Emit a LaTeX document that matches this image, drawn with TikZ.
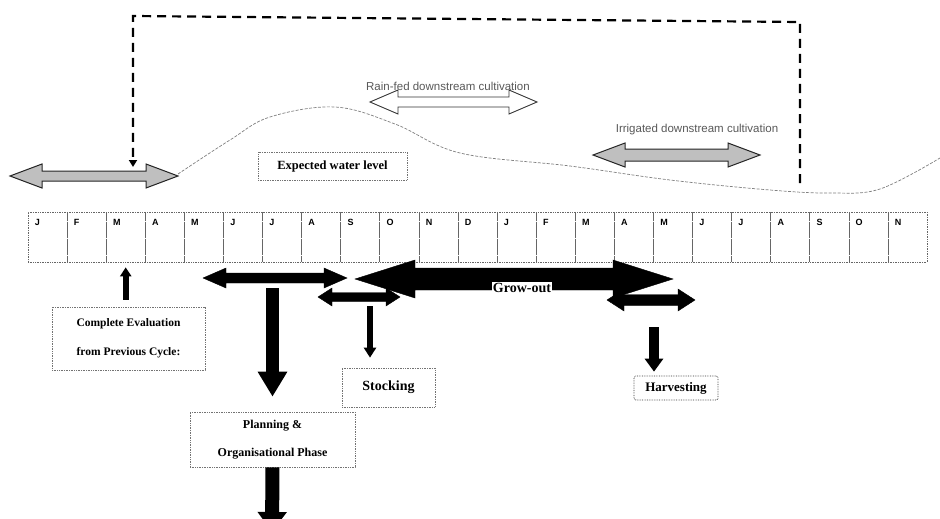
\documentclass[tikz,border=0pt]{standalone}
\usepackage{fontspec}
\setmainfont{Liberation Serif}
\setsansfont{Liberation Sans}
\usetikzlibrary{arrows.meta}
% horizontal double arrow drawn as a polygon: name, x1, x2, y, shaft half, head half, head length, style
\newcommand\hdarrow[8]{%
  \draw[#8] (#2,#4) -- (#2+#7,#4-#6) -- (#2+#7,#4-#5) -- (#3-#7,#4-#5) -- (#3-#7,#4-#6) -- (#3,#4)
    -- (#3-#7,#4+#6) -- (#3-#7,#4+#5) -- (#2+#7,#4+#5) -- (#2+#7,#4+#6) -- cycle;
  \coordinate (#1) at ({(#2+#3)/2},#4);}
\begin{document}
\begin{tikzpicture}[x=1pt,y=-1pt,
  box/.style={draw=black!55, densely dotted, line width=0.7pt, inner sep=0pt, align=center},
  cell/.style={draw=black!60, densely dotted, line width=0.7pt, minimum width=39.09pt, minimum height=50pt, inner sep=0pt},
  mon/.style={font=\sffamily\bfseries\fontsize{9}{9}\selectfont, anchor=north west, inner sep=0pt},
  grayarrow/.style={fill=gray!50, draw=black!85, line width=1pt},
  blackarrow/.style={fill=black},
  label/.style={font=\sffamily\fontsize{11.5}{11.5}\selectfont, text=black!65},
  feedback/.style={line width=2.2pt, dash pattern=on 9pt off 6pt},
  water/.style={draw=black!50, line width=0.7pt, dash pattern=on 3pt off 1.5pt}
]
\useasboundingbox (0,0) rectangle (940,519);
\fill[white] (0,0) rectangle (940,519);
\clip (0,0) rectangle (940,519);

% month table
\foreach \m [count=\i from 0] in {J,F,M,A,M,J,J,A,S,O,N,D,J,F,M,A,M,J,J,A,S,O,N} {
  \node[cell] (m\i) at ({28+39.09*(\i+0.5)},237) {};
  \node[mon] (ml\i) at ([xshift=7pt,yshift=-7pt]m\i.north west) {\m};
}

% top arrows
\hdarrow{lga}{10}{178}{176}{5}{12}{32}{grayarrow}
\hdarrow{rfa}{370}{537}{102}{5}{12}{28}{draw=black!80, fill=white, line width=0.9pt}
\hdarrow{iga}{593}{760}{155}{6}{12}{32}{grayarrow}
\node[label] (rft) at (448,86) {Rain-fed downstream cultivation};
\node[label] (igt) at (697,130) {Irrigated downstream cultivation};

% expected water level
\draw[water] plot[smooth, tension=0.6] coordinates {(178,174) (230,140) (270,117) (335,107) (395,124) (460,153) (570,166) (670,180) (770,190) (830,193) (880,189) (940,158)};
\node[box, minimum width=149pt, minimum height=28pt, font=\bfseries\fontsize{12.5}{14}\selectfont] (wl) at (332.5,166) {Expected water level};

% feedback loop
\coordinate (fbR) at (800,183);
\coordinate (fbRT) at (800,22);
\coordinate (fbLT) at (133,16);
\coordinate (fbtip) at (133,167);
\draw[feedback, -{Triangle[width=8pt,length=7pt]}] (fbR) -- (fbRT) -- (fbLT) -- (fbtip);

% period arrows under the table
\hdarrow{goa}{355}{673}{279}{11}{19}{60}{blackarrow}
\hdarrow{pla}{203}{347}{278}{5}{10}{23}{blackarrow}
\hdarrow{sta}{318}{400}{297}{4.5}{9}{14}{blackarrow}
\hdarrow{hva}{607}{695}{300}{5.5}{11}{17}{blackarrow}
\node[font=\bfseries\fontsize{14}{14}\selectfont, fill=white, inner sep=1pt] (got) at (522,288) {Grow-out};

% boxes
\node[box, minimum width=153pt, minimum height=63pt, font=\bfseries\fontsize{11.5}{29}\selectfont] (evalbox) at (128.5,338.5) {Complete Evaluation\\from Previous Cycle:};
\node[box, minimum width=165pt, minimum height=55pt, font=\bfseries\fontsize{12}{28}\selectfont] (planbox) at (272.5,439.5) {Planning \&\\Organisational Phase};
\node[box, minimum width=93pt, minimum height=39pt, font=\bfseries\fontsize{14}{16}\selectfont] (stockbox) at (388.5,387.5) {Stocking};
\node[box, draw=black!80, rounded corners=2pt, minimum width=84pt, minimum height=24pt, font=\bfseries\fontsize{13}{15}\selectfont] (harvbox) at (676,388) {Harvesting};

% vertical arrows
\coordinate (sdn) at (370,297);
\coordinate (hdn) at (654,300);
\coordinate (btm) at (272,532);
\draw[line width=6pt, -{Triangle[width=11pt,length=9pt]}, shorten <=7pt, shorten >=5pt] (evalbox.north -| m2.south) -- (m2.south);
\draw[line width=13pt, -{Triangle[width=28pt,length=25pt]}, shorten <=10pt, shorten >=15pt] (planbox.north |- pla) -- (planbox.north);
\draw[line width=6pt, -{Triangle[width=12pt,length=10pt]}, shorten <=9pt, shorten >=10pt] (sdn) -- (sdn |- stockbox.north);
\draw[line width=10pt, -{Triangle[width=18pt,length=13pt]}, shorten <=27pt, shorten >=4pt] (hdn) -- (hdn |- harvbox.north);
\draw[line width=14pt, -{Triangle[width=28pt,length=20pt]}] (planbox.south) -- (btm);
\end{tikzpicture}
\end{document}
